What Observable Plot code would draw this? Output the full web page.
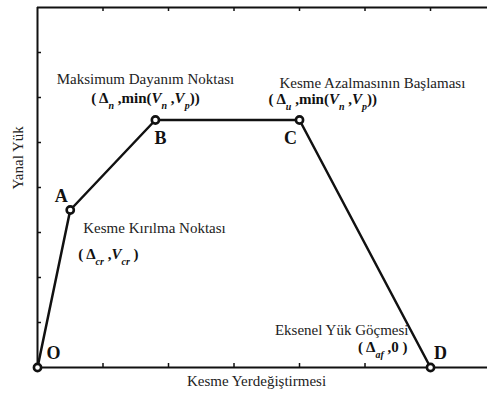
<!DOCTYPE html>
<html>
<head>
<meta charset="utf-8">
<script src="https://cdn.jsdelivr.net/npm/d3@7"></script>
<script src="https://cdn.jsdelivr.net/npm/@observablehq/plot@0.6"></script>
<style>
  html, body { margin: 0; padding: 0; background: #fff; }
  svg text { font-family: "Liberation Serif", "Times New Roman", "DejaVu Serif", serif; }
</style>
</head>
<body>
<div id="chart"></div>
<script>
// Backbone curve of a shear-critical column: O → A → B → C → D
const pointNames = ["O", "A", "B", "C", "D"];
const drift = [0, 0.5, 1.8, 4.0, 6.0];
const load = [0, 3.5, 5.5, 5.5, 0];
const pointTitles = ["", "Kesme Kırılma Noktası", "Maksimum Dayanım Noktası", "Kesme Azalmasının Başlaması", "Eksenel Yük Göçmesi"];
// _{...} marks a subscript, V is set in italics
const pointFormulas = ["", "( Δ_{cr} ,V_{cr} )", "( Δ_{n} ,min(V_{n} ,V_{p}))", "( Δ_{u} ,min(V_{n} ,V_{p}))", "( Δ_{af} ,0 )"];
const xTicks = [1, 2, 3, 4, 5, 6];
const yTicks = [1, 2, 3, 4, 5, 6, 7];
const xLabel = "Kesme Yerdeğiştirmesi";
const yLabel = "Yanal Yük";

const pts = pointNames.map((name, i) => ({
  name, x: drift[i], y: load[i], title: pointTitles[i], formula: pointFormulas[i]
}));
const at = name => pts.filter(d => d.name === name);

const ink = "#111";
const grey = "#222";
const serif = "Liberation Serif, Times New Roman, DejaVu Serif, serif";

// per-point label placement (letter, title, formula)
const place = {
  O: {letter: [16, -14]},
  A: {letter: [-9, -14], title: [13, 18, "start"], formula: [8, 44, "start"]},
  B: {letter: [5, 18], title: [-10, -41, "middle"], formula: [-10, -22, "middle"]},
  C: {letter: [-9, 18], title: [-20, -37, "start"], formula: [-31, -21, "start"]},
  D: {letter: [10, -14], title: [-22, -37, "end"], formula: [-23, -20, "end"]}
};

const marks = [
  // frame: left, bottom and top edges
  Plot.ruleX([0], {stroke: ink, strokeWidth: 2}),
  Plot.ruleY([0, 8], {stroke: ink, strokeWidth: 2}),
  // inward ticks on the bottom, top and left edges
  Plot.ruleX(xTicks, {x: d => d, y1: 0, y2: 0, insetTop: -4, stroke: ink, strokeWidth: 1.5}),
  Plot.ruleX(xTicks, {x: d => d, y1: 8, y2: 8, insetBottom: -4, stroke: ink, strokeWidth: 1.5}),
  Plot.ruleY(yTicks, {y: d => d, x1: 0, x2: 0, insetRight: -4, stroke: ink, strokeWidth: 1.5}),
  // axis titles
  Plot.text([xLabel], {frameAnchor: "bottom", dx: -6, dy: 18, fill: grey, fontSize: 15}),
  Plot.text([yLabel], {frameAnchor: "left", rotate: -90, dx: -19, dy: 2, fill: grey, fontSize: 15}),
  // backbone curve
  Plot.line(pts, {x: "x", y: "y", stroke: ink, strokeWidth: 2.5}),
  Plot.dot(pts, {x: "x", y: "y", r: 3.6, stroke: ink, strokeWidth: 2.6, fill: "#fff"})
];

for (const name of pointNames) {
  const p = place[name];
  marks.push(Plot.text(at(name), {
    x: "x", y: "y", text: "name", dx: p.letter[0], dy: p.letter[1],
    fontSize: 18, fontWeight: "bold", fill: ink
  }));
  if (p.title) {
    marks.push(Plot.text(at(name), {
      x: "x", y: "y", text: "title", dx: p.title[0], dy: p.title[1], textAnchor: p.title[2],
      fontSize: 15, fill: grey
    }));
    marks.push(Plot.text(at(name), {
      x: "x", y: "y", text: "formula", dx: p.formula[0], dy: p.formula[1], textAnchor: p.formula[2],
      fontSize: 15, fontWeight: "bold", fill: ink
    }));
  }
}

const chart = Plot.plot({
  width: 487,
  height: 396,
  marginLeft: 37,
  marginRight: 0,
  marginTop: 7,
  marginBottom: 29,
  x: {domain: [0, 6.87], axis: null},
  y: {domain: [0, 8], axis: null},
  style: {fontFamily: serif, background: "#fff", overflow: "visible"},
  marks
});

// set subscripts and italic symbols in the formula labels
d3.select(chart).selectAll("text").each(function () {
  const t = d3.select(this);
  const s = t.text();
  if (!s.includes("_{")) return;
  t.text(null);
  const re = /_\{([^}]*)\}|V|[^_V]+/g;
  let m, shift = 0;
  while ((m = re.exec(s))) {
    if (m[1] !== undefined) {
      t.append("tspan").attr("dy", 6).attr("font-size", 10).attr("font-style", "italic").text(m[1]);
      shift = 6;
    } else {
      const sp = t.append("tspan").text(m[0]);
      if (shift) { sp.attr("dy", -shift); shift = 0; }
      if (m[0] === "V") sp.attr("font-style", "italic");
    }
  }
});

document.getElementById("chart").appendChild(chart);
</script>
</body>
</html>
